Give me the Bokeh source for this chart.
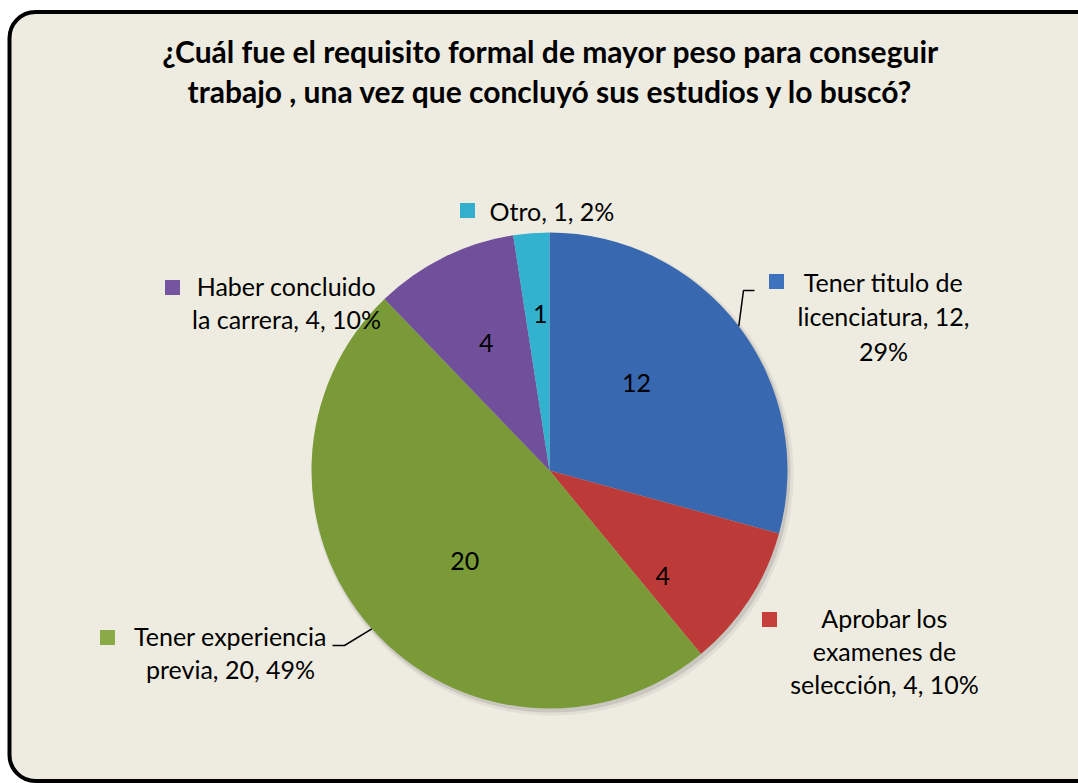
import numpy as np
from bokeh.plotting import figure
from bokeh.models import Range1d, BoxAnnotation, ColumnDataSource
from bokeh.embed import file_html
from bokeh.resources import INLINE
from bokeh.core.properties import value

# ---------------- data ----------------
categories = ["Tener titulo de licenciatura", "Aprobar los examenes de selección",
              "Tener experiencia previa", "Haber concluido la carrera", "Otro"]
counts = [12, 4, 20, 4, 1]
title_lines = ["¿Cuál fue el requisito formal de mayor peso para conseguir",
               "trabajo , una vez que concluyó sus estudios y lo buscó?"]
label_lines = [["Tener titulo de", "licenciatura, {c},", "{p}%"],
               ["Aprobar los", "examenes de", "selección, {c}, {p}%"],
               ["Tener experiencia", "previa, {c}, {p}%"],
               ["Haber concluido", "la carrera, {c}, {p}%"],
               ["Otro, {c}, {p}%"]]

# ---------------- style / layout ----------------
colors = ["#3868B0", "#BC3B38", "#7A9A38", "#70509A", "#33B2D0"]
key_colors = ["#3C72BE", "#C63F3B", "#8AAA48", "#7655A0", "#32AFCD"]
FONT = "Lato"
W, H = 1078, 783
def Y(yi):          # image y (top-down) -> data y (bottom-up)
    return H - yi

cx, cy, R = 549, Y(470), 238
in_r = [0.52, 0.65, 0.52, 0.60, 0.66]
in_shift = [8, -10, 5, 0, -1]
# outside label layout: (center x, first baseline y, line spacing, align, key x, key y)
out_layout = [(883, 281, 34.5, "center", 776, 281),
              (884, 617, 33.0, "center", 769, 619),
              (230, 635, 33.0, "center", 107, 637),
              (286, 285, 33.0, "center", 172, 287),
              (489, 210, 32.0, "left", 467, 210)]

total = sum(counts)
vals = np.array(counts, dtype=float)
frac = vals / total
cum = np.concatenate([[0], np.cumsum(frac)])
start = np.pi / 2 - cum[1:] * 2 * np.pi
end = np.pi / 2 - cum[:-1] * 2 * np.pi
mid = (start + end) / 2
pct = [int(round(100 * f)) for f in frac]

p = figure(width=W, height=H, output_backend="svg", toolbar_location=None,
           x_range=Range1d(0, W), y_range=Range1d(0, H),
           min_border=0, background_fill_color="white", border_fill_color="white")
p.axis.visible = False
p.grid.visible = False
p.outline_line_color = None

# chart frame
frame = BoxAnnotation(left=9, right=1130, top=Y(11.5), bottom=Y(780.5),
                      fill_color="#EEECE1", fill_alpha=1.0, line_color="black",
                      line_alpha=1.0, line_width=4, border_radius=26, level="underlay")
p.add_layout(frame)

# shadow
p.circle(x=[cx + 3], y=[cy - 4], radius=241, fill_color="#808080", fill_alpha=0.12, line_color=None)
p.circle(x=[cx + 2], y=[cy - 3], radius=239, fill_color="#606060", fill_alpha=0.18, line_color=None)

src = ColumnDataSource(dict(start=start, end=end, color=colors, cat=categories, count=counts))
p.wedge(x=cx, y=cy, radius=R, start_angle="start", end_angle="end",
        fill_color="color", line_color=None, source=src)

# inside value labels
ang = mid + np.radians(in_shift)
lx = cx + np.array(in_r) * R * np.cos(ang)
ly = cy + np.array(in_r) * R * np.sin(ang)
p.text(x=lx, y=ly, text=[str(c) for c in counts], text_font=value(FONT),
       text_font_size="25px", text_align="center", text_baseline="middle", text_color="black")

# outside labels with keys
for i, lines in enumerate(label_lines):
    x0, yb, sp, al, kx, ky = out_layout[i]
    texts = [s.format(c=counts[i], p=pct[i]) for s in lines]
    ys = [Y(yb + k * sp) for k in range(len(texts))]
    p.text(x=[x0] * len(texts), y=ys, text=texts, text_font=value(FONT),
           text_font_size="25px", text_align=al, text_baseline="alphabetic", text_color="black")
    p.rect(x=[kx], y=[Y(ky)], width=15, height=15, fill_color=key_colors[i], line_color=None)

# leader lines (start on the pie edge at mid angle)
ex0, ey0 = cx + R * np.cos(mid[0]), cy + R * np.sin(mid[0])
p.line(x=[ex0, 743, 754], y=[ey0, Y(290), Y(290)], line_color="black", line_width=1.5)
ex2, ey2 = cx + R * np.cos(mid[2]), cy + R * np.sin(mid[2])
p.line(x=[ex2, 344, 332], y=[ey2, Y(645), Y(645)], line_color="black", line_width=1.5)

# title
p.text(x=[550, 550], y=[Y(50), Y(90)], text=title_lines, text_font=value(FONT),
       text_font_style="bold", text_font_size="30px", text_align="center",
       text_baseline="alphabetic", text_color="black")

open("out.html", "w").write(file_html(p, INLINE))
